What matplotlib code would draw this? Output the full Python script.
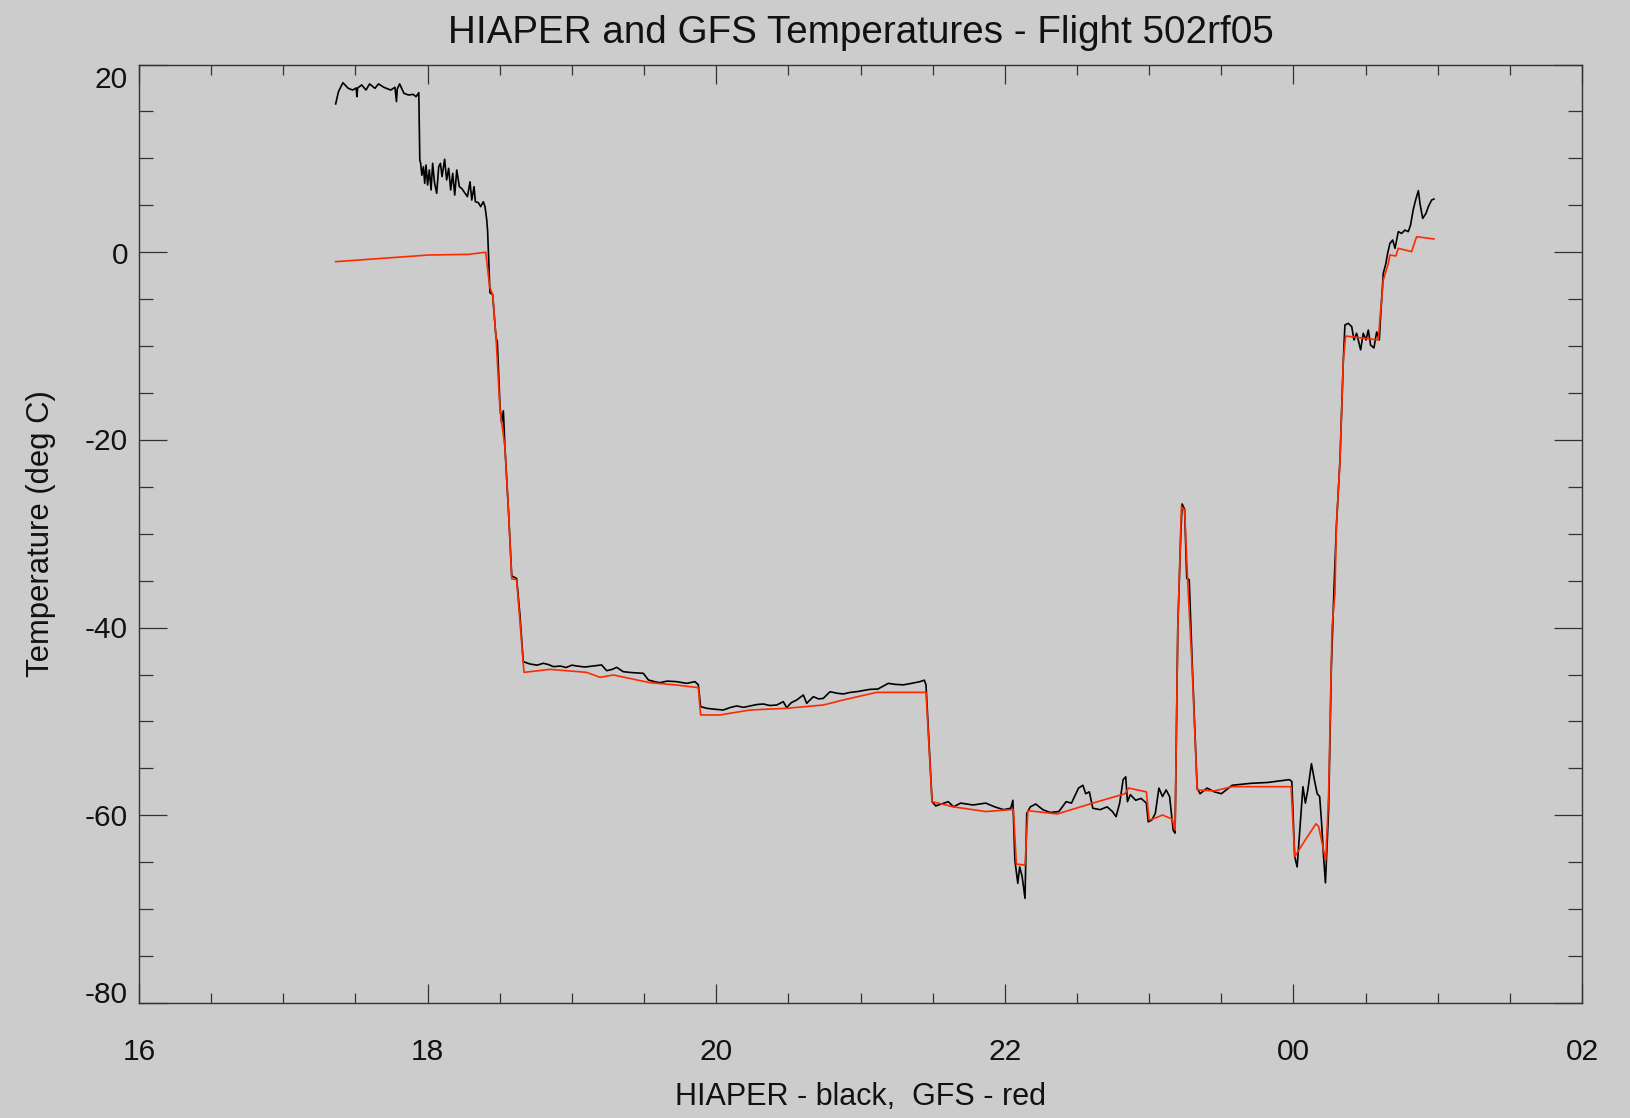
import matplotlib
matplotlib.use("Agg")
import matplotlib.pyplot as plt
from matplotlib.ticker import MultipleLocator, FixedLocator
import matplotlib.transforms as mtransforms

plt.rcParams['font.family'] = ['Liberation Sans', 'DejaVu Sans']

title = "HIAPER and GFS Temperatures - Flight 502rf05"
xlabel = "HIAPER - black,  GFS - red"
ylabel = "Temperature (deg C)"

x_ticks = [16, 18, 20, 22, 24, 26]
x_tick_labels = ["16", "18", "20", "22", "00", "02"]
y_ticks = [20, 0, -20, -40, -60, -80]
y_tick_labels = ["20", "0", "-20", "-40", "-60", "-80"]

# HIAPER (black) - hours, deg C
hiaper_t = [17.363, 17.382, 17.413, 17.45, 17.481, 17.505, 17.51, 17.515, 17.543, 17.573,
            17.598, 17.635, 17.66, 17.697, 17.744, 17.774, 17.784, 17.79, 17.806, 17.836,
            17.868, 17.9, 17.92, 17.939, 17.946,
            17.952, 17.96, 17.971, 17.98, 17.989, 18.0, 18.012, 18.024, 18.035, 18.047,
            18.063, 18.077, 18.089, 18.1, 18.118, 18.132, 18.146, 18.16, 18.174, 18.188,
            18.202, 18.22, 18.236, 18.26, 18.276, 18.294, 18.306, 18.322, 18.331, 18.352,
            18.368, 18.386, 18.398, 18.41,
            18.416, 18.432, 18.451, 18.474, 18.483, 18.502, 18.513, 18.525, 18.536, 18.56,
            18.583, 18.617, 18.64, 18.663, 18.71, 18.76, 18.802, 18.84, 18.871, 18.92,
            18.96, 19.0, 19.033, 19.09, 19.148, 19.206, 19.241, 19.28, 19.31, 19.356,
            19.42, 19.495, 19.53, 19.57, 19.61, 19.66, 19.726, 19.76, 19.795, 19.853,
            19.876, 19.892, 19.934, 19.99, 20.049, 20.1, 20.142, 20.19, 20.234, 20.28,
            20.327, 20.37, 20.419, 20.465, 20.488, 20.52, 20.558, 20.604, 20.627, 20.673,
            20.71, 20.742, 20.789, 20.84, 20.881, 20.93, 20.973, 21.02, 21.066, 21.12,
            21.193, 21.24, 21.297, 21.35, 21.412, 21.442, 21.454,
            21.496, 21.521, 21.56, 21.608, 21.645, 21.694, 21.78, 21.868, 21.93, 21.991,
            22.041, 22.056, 22.07, 22.09, 22.103, 22.12, 22.14, 22.152, 22.177, 22.214,
            22.264, 22.313, 22.375, 22.425, 22.462, 22.511, 22.541, 22.561, 22.586, 22.61,
            22.66, 22.709, 22.746, 22.771, 22.796, 22.82, 22.838, 22.85, 22.87, 22.907,
            22.944, 22.981, 22.994, 23.019, 23.043, 23.068, 23.093, 23.118, 23.142, 23.167,
            23.18, 23.199, 23.219, 23.229, 23.246, 23.261, 23.278, 23.298, 23.333, 23.353,
            23.402, 23.452, 23.501, 23.576, 23.699, 23.823, 23.972, 23.989, 24.009, 24.026,
            24.046, 24.066, 24.083, 24.1, 24.125, 24.145, 24.165, 24.182, 24.194, 24.209,
            24.222, 24.244, 24.263, 24.281, 24.298, 24.323, 24.346,
            24.357, 24.38, 24.404, 24.42, 24.438, 24.466, 24.484, 24.503, 24.519, 24.535,
            24.558, 24.577, 24.595, 24.607, 24.623, 24.641, 24.653, 24.669, 24.688, 24.704,
            24.727, 24.75, 24.773, 24.796, 24.812, 24.83, 24.847, 24.866, 24.877, 24.896,
            24.919, 24.935, 24.958, 24.974]
hiaper_T = [15.8, 17.1, 18.06, 17.46, 17.28, 17.5, 16.57, 17.5, 17.82, 17.28,
            17.93, 17.46, 17.93, 17.57, 17.28, 17.57, 16.05, 17.4, 17.93, 16.93,
            16.75, 16.82, 16.57, 17.0, 9.8,
            9.47, 8.2, 9.1, 7.34, 9.29, 7.16, 8.76, 6.63, 9.47, 7.5,
            6.27, 9.1, 9.47, 8.05, 9.9, 7.7, 8.94, 6.63, 8.4, 6.09,
            8.76, 6.98, 6.8, 6.27, 5.92, 7.5, 5.56, 6.98, 5.38, 5.28,
            4.85, 5.38, 4.85, 3.43,
            2.21, -4.31, -4.53, -9.1, -9.53, -16.5, -18.2, -16.9, -20.8, -27.4,
            -34.5, -34.76, -38.7, -43.63, -43.88, -44.0, -43.8, -43.95, -44.16, -44.1,
            -44.25, -44.0, -44.09, -44.2, -44.09, -43.98, -44.59, -44.45, -44.23, -44.7,
            -44.8, -44.87, -45.58, -45.75, -45.87, -45.7, -45.76, -45.85, -45.94, -45.76,
            -46.1, -48.42, -48.6, -48.7, -48.78, -48.5, -48.35, -48.5, -48.35, -48.2,
            -48.14, -48.3, -48.25, -47.89, -48.53, -48.0, -47.71, -47.18, -48.07, -47.36,
            -47.6, -47.54, -46.83, -47.0, -47.07, -46.9, -46.83, -46.7, -46.58, -46.55,
            -45.94, -46.05, -46.1, -45.95, -45.76, -45.6, -46.1,
            -58.55, -59.0, -58.8, -58.55, -59.1, -58.7, -58.9, -58.7, -59.1, -59.4,
            -59.25, -58.4, -64.8, -67.25, -65.5, -66.5, -68.85, -59.8, -59.1, -58.8,
            -59.4, -59.7, -59.6, -58.55, -58.7, -57.1, -56.8, -57.7, -57.5, -59.25,
            -59.4, -59.1, -59.6, -60.15, -58.7, -56.2, -55.9, -58.55, -57.8, -58.4,
            -58.2, -58.7, -60.7, -60.5, -59.8, -57.1, -58.0, -57.3, -58.0, -61.6,
            -61.9, -39.9, -30.3, -26.83, -27.4, -34.75, -34.9, -43.45, -57.1, -57.7,
            -57.1, -57.5, -57.7, -56.8, -56.6, -56.5, -56.2, -56.4, -64.4, -65.5,
            -61.2, -56.95, -58.7, -57.3, -54.5, -56.2, -57.7, -58.0, -60.5, -64.4,
            -67.2, -59.4, -44.2, -36.0, -29.2, -22.1, -11.5,
            -7.76, -7.58, -7.93, -9.35, -8.64, -10.4, -8.64, -9.35, -8.3, -9.9,
            -10.2, -8.5, -9.35, -6.16, -2.25, -1.19, -0.12, 0.94, 1.3, 0.41,
            2.19, 2.0, 2.36, 2.19, 2.9, 4.5, 5.56, 6.56, 5.2, 3.6,
            4.14, 4.85, 5.56, 5.67]

# GFS (red) - hours, deg C
gfs_t = [17.363, 18.007, 18.285, 18.403, 18.43, 18.451, 18.474, 18.502, 18.536, 18.56,
         18.583, 18.617, 18.668, 18.848, 19.102, 19.195, 19.287, 19.541, 19.726, 19.876,
         19.892, 20.026, 20.234, 20.488, 20.742, 20.881, 21.112, 21.454, 21.496, 21.645,
         21.868, 22.041, 22.06, 22.08, 22.14, 22.16, 22.363, 22.61, 22.833, 22.858,
         22.981, 23.0, 23.026, 23.093, 23.16, 23.18, 23.199, 23.224, 23.246, 23.268,
         23.298, 23.333, 23.452, 23.576, 23.984, 24.009, 24.096, 24.157, 24.175, 24.224,
         24.244, 24.268, 24.288, 24.298, 24.323, 24.346, 24.362, 24.588, 24.605, 24.623,
         24.658, 24.669, 24.71, 24.727, 24.819, 24.854, 24.974]
gfs_T = [-1.01, -0.3, -0.23, 0.0, -3.7, -4.5, -9.1, -16.8, -20.8, -27.4,
         -34.8, -34.9, -44.77, -44.45, -44.77, -45.3, -45.05, -45.87, -46.12, -46.4,
         -49.31, -49.31, -48.78, -48.6, -48.25, -47.71, -46.9, -46.9, -58.55, -59.1,
         -59.6, -59.4, -59.4, -65.2, -65.3, -59.5, -59.86, -58.7, -57.7, -57.1,
         -57.5, -60.5, -60.4, -59.97, -60.4, -61.6, -39.9, -27.1, -27.47, -35.3,
         -44.2, -57.3, -57.4, -56.95, -56.95, -64.4, -62.3, -60.9, -61.2, -64.8,
         -57.7, -39.9, -36.35, -29.2, -22.1, -11.5, -8.93, -9.35, -6.16, -2.96,
         -1.19, -0.3, -0.4, 0.41, 0.06, 1.65, 1.41]

bg = '#cccccc'
axis_col = '#333333'
text_col = '#111111'

fig = plt.figure(figsize=(16.3, 11.18), dpi=100, facecolor=bg)
ax = fig.add_axes([139 / 1630, 1 - 1003 / 1118, 1443 / 1630, 938.5 / 1118], facecolor=bg)

ax.plot(hiaper_t, hiaper_T, color='black', lw=1.2, zorder=2)
ax.plot(gfs_t, gfs_T, color='#ff2a00', lw=1.2, zorder=3)

ax.set_xlim(16, 26)
ax.set_ylim(-80, 20)

ax.xaxis.set_major_locator(FixedLocator(x_ticks))
ax.set_xticklabels(x_tick_labels)
ax.xaxis.set_minor_locator(MultipleLocator(0.5))
ax.yaxis.set_major_locator(FixedLocator(y_ticks))
ax.yaxis.set_minor_locator(MultipleLocator(5))
ax.set_yticklabels([])

for sp in ax.spines.values():
    sp.set_color(axis_col)
    sp.set_linewidth(1.0)

ax.tick_params(axis='x', which='major', direction='in', length=14, width=0.9,
               top=True, bottom=True, color=axis_col, labelsize=21.5, labelcolor=text_col, pad=25)
ax.tick_params(axis='x', which='minor', direction='in', length=7, width=0.9,
               top=True, bottom=True, color=axis_col)
ax.tick_params(axis='y', which='major', direction='in', length=20, width=0.9,
               left=True, right=True, color=axis_col)
ax.tick_params(axis='y', which='minor', direction='in', length=10, width=0.9,
               left=True, right=True, color=axis_col)

# y tick labels, drawn as text at their data positions with small offsets like the original
y_offsets_px = {20: -15, 0: -4, -20: -2, -40: -2, -60: -3, -80: 8}
for v, lab in zip(y_ticks, y_tick_labels):
    trans = mtransforms.blended_transform_factory(ax.transAxes, ax.transData) + \
        mtransforms.ScaledTranslation(-11 / 100, y_offsets_px[v] / 100, fig.dpi_scale_trans)
    ax.text(0, v, lab, transform=trans, ha='right', va='center', fontsize=21.5,
            color=text_col, clip_on=False)

ax.set_title(title, fontsize=27.8, color=text_col, y=1.034, va='center', pad=0)
ax.set_xlabel(xlabel, fontsize=22, color=text_col)
ax.xaxis.set_label_coords(0.5, -0.1)
ax.xaxis.label.set_va('center')
ax.set_ylabel(ylabel, fontsize=22.3, color=text_col)
ax.yaxis.set_label_coords(-0.0676, 0.5)
ax.yaxis.label.set_va('center')
ax.yaxis.label.set_ha('center')

fig.savefig('out.png', dpi=100, facecolor=bg)
